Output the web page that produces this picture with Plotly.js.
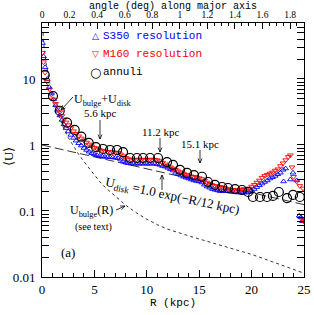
<!DOCTYPE html>
<html><head><meta charset="utf-8">
<script src="https://cdn.plot.ly/plotly-3.0.1.min.js"></script>
<style>html,body{margin:0;padding:0;background:#fff}</style>
</head><body><div id="chart" style="width:314px;height:315px"></div>
<script>
// ---- data ----
const s350_R = [0.05,0.15,0.3,0.5,0.7,0.9,1.1,1.3,1.5,1.7,
  1.9,2.1,2.3,2.5,2.75,3.0,3.25,3.5,3.75,4.0,
  4.25,4.5,4.75,5.0,5.25,5.5,5.75,6.0,6.25,6.5,
  6.75,7.0,7.25,7.5,7.75,8.0,8.25,8.5,8.75,9.0,
  9.25,9.5,9.75,10.0,10.25,10.5,10.75,11.0,11.25,11.5,
  11.75,12.0,12.25,12.5,12.75,13.0,13.25,13.5,13.75,14.0,
  14.25,14.5,14.75,15.0,15.25,15.5,15.75,16.0,16.25,16.5,
  16.75,17.0,17.25,17.5,17.75,18.0,18.25,18.5,18.75,19.0,
  19.25,19.5,19.75,20.0,20.25,20.5,20.75,21.0,21.25,21.5,
  21.75,22.0,22.25,22.5,22.75,23.0,23.25,23.05,23.7,23.95,
  24.3,24.55,24.7,24.85];
const s350_U = [35,22,15,10,7.5,6.0,4.9,4.0,3.3,2.8,
  2.4,2.05,1.8,1.6,1.42,1.28,1.16,1.06,0.98,0.90,
  0.84,0.79,0.75,0.72,0.70,0.68,0.67,0.66,0.66,0.65,
  0.65,0.64,0.63,0.60,0.57,0.54,0.53,0.52,0.52,0.52,
  0.52,0.52,0.52,0.52,0.52,0.52,0.52,0.51,0.50,0.48,
  0.47,0.45,0.43,0.41,0.38,0.36,0.345,0.33,0.32,0.31,
  0.30,0.29,0.285,0.28,0.27,0.25,0.235,0.225,0.215,0.21,
  0.205,0.20,0.20,0.20,0.20,0.195,0.195,0.195,0.19,0.19,
  0.19,0.19,0.195,0.205,0.215,0.23,0.245,0.26,0.275,0.29,
  0.31,0.325,0.34,0.36,0.38,0.42,0.44,0.28,0.30,0.38,
  0.29,0.085,0.08,0.07];

const m160_R = [0.05,0.15,0.3,0.5,0.7,0.9,1.1,1.3,1.5,1.7,
  1.9,2.1,2.3,2.5,2.75,3.0,3.25,3.5,3.75,4.0,
  4.25,4.5,4.75,5.0,5.25,5.5,5.75,6.0,6.25,6.5,
  6.75,7.0,7.25,7.5,7.75,8.0,8.25,8.5,8.75,9.0,
  9.25,9.5,9.75,10.0,10.25,10.5,10.75,11.0,11.25,11.5,
  11.75,12.0,12.25,12.5,12.75,13.0,13.25,13.5,13.75,14.0,
  14.25,14.5,14.75,15.0,15.25,15.5,15.75,16.0,16.25,16.5,
  16.75,17.0,17.25,17.5,17.75,18.0,18.25,18.5,18.75,19.0,
  19.25,19.5,19.75,20.0,20.25,20.5,20.75,21.0,21.25,21.5,
  21.75,22.0,22.25,22.5,22.75,23.0,23.25,23.5,23.7,23.85,
  24.0,24.3,24.6,24.9,24.8,24.95];
const m160_U = [25,18,12.5,9.0,7.0,5.8,4.9,4.2,3.6,3.15,
  2.75,2.45,2.2,2.0,1.8,1.62,1.48,1.36,1.26,1.17,
  1.09,1.02,0.96,0.91,0.87,0.84,0.82,0.80,0.79,0.78,
  0.78,0.77,0.76,0.72,0.68,0.64,0.61,0.60,0.60,0.60,
  0.60,0.60,0.60,0.60,0.60,0.60,0.60,0.59,0.57,0.54,
  0.51,0.48,0.46,0.44,0.42,0.40,0.385,0.37,0.355,0.345,
  0.335,0.33,0.32,0.315,0.305,0.29,0.27,0.255,0.245,0.24,
  0.235,0.23,0.225,0.22,0.215,0.21,0.21,0.205,0.205,0.21,
  0.215,0.215,0.22,0.235,0.25,0.27,0.29,0.32,0.34,0.355,
  0.37,0.385,0.41,0.43,0.48,0.53,0.59,0.66,0.70,0.46,
  0.33,0.28,0.24,0.22,0.075,0.07];

const annuli_R = [0.26,1.05,1.69,2.39,3.12,3.75,4.46,5.15,5.82,6.49,
  7.16,7.73,8.40,9.06,9.64,10.31,11.07,11.93,12.5,13.17,
  13.84,14.5,15.27,15.84,16.5,17.18,17.75,18.42,19.08,19.66,
  20.13,20.8,21.47,22.04,22.6,23.38,23.95,24.6];
const annuli_U = [11.5,5.5,3.3,2.18,1.69,1.34,1.08,0.93,0.87,0.84,
  0.84,0.78,0.635,0.635,0.635,0.635,0.635,0.55,0.50,0.42,
  0.377,0.35,0.33,0.275,0.248,0.231,0.223,0.215,0.208,0.194,
  0.163,0.163,0.163,0.169,0.194,0.157,0.175,0.163];

const disk_R = [0, 25];
const disk_U = [1.0, 0.125];

const bulge_R = [0.1,0.2,0.4,0.6,0.8,1.0,1.25,1.5,1.75,2.0,2.5,3.0,3.5,4.0,4.5,5.0,5.5,6.0,7.0,8.0,9.0,10.0,11.0,12.0,14.0,16.0,18.0,20.0,22.0,24.0,25.0];
const bulge_U = [50,30,17,11,7.5,5.3,3.9,3.0,2.35,1.9,1.3,0.95,0.72,0.56,0.44,0.35,0.28,0.23,0.165,0.122,0.094,0.075,0.062,0.053,0.042,0.034,0.027,0.022,0.017,0.013,0.0114];

const bottomTicks = [0,5,10,15,20,25];
const leftTickVals = [0.01,0.1,1,10];
const leftTickText = ['0.01','0.1','1','10'];
const topRange = [0, 1.901];

// ---- layout helpers ----
const PL=42, PR=304, PT=23, PB=277;
const fx = x => (x-PL)/(PR-PL);
const fy = y => (PB-y)/(PB-PT);
const SERIF = 'Liberation Serif, Times New Roman, serif';
const MONO = 'Liberation Mono, Courier New, monospace';

const traces = [
  {x: bulge_R, y: bulge_U, mode:'lines', line:{color:'black', width:0.8, dash:'3px,3px'}, hoverinfo:'skip'},
  {x: disk_R, y: disk_U, mode:'lines', line:{color:'black', width:0.8, dash:'9px,4px'}, hoverinfo:'skip'},
  {x: s350_R, y: s350_U, mode:'markers', name:'S350 resolution',
   marker:{symbol:'triangle-up-open', size:5, color:'#0000ff', line:{width:0.9}}},
  {x: m160_R, y: m160_U, mode:'markers', name:'M160 resolution',
   marker:{symbol:'triangle-down-open', size:5, color:'#ff0000', line:{width:0.9}}},
  {x: annuli_R, y: annuli_U, mode:'markers', name:'annuli',
   marker:{symbol:'circle-open', size:9, color:'black', line:{width:1.2}}},
  {x: [], y: [], xaxis:'x2', yaxis:'y', mode:'markers', hoverinfo:'skip'}
];

// arrows drawn as shapes (tail -> tip, open V head)
const shapes = [];
function arrow(xt, yt, xs, ys){
  const ln = {color:'black', width:0.8};
  shapes.push({type:'line', xref:'paper', yref:'paper', x0:fx(xs), y0:fy(ys), x1:fx(xt), y1:fy(yt), line:ln});
  const dx = xt-xs, dy = yt-ys, d = Math.hypot(dx,dy), ux = dx/d, uy = dy/d;
  const h = 4.5, w = 2;
  const bx = xt-ux*h, by = yt-uy*h;
  const p1 = [bx - uy*w, by + ux*w], p2 = [bx + uy*w, by - ux*w];
  shapes.push({type:'path', xref:'paper', yref:'paper',
    path:`M${fx(p1[0])},${fy(p1[1])} L${fx(xt)},${fy(yt)} L${fx(p2[0])},${fy(p2[1])}`, line:ln});
}
function label(x, y, text, opts){
  return Object.assign({xref:'paper', yref:'paper', x:fx(x), y:fy(y), text:text, showarrow:false,
    xanchor:'center', yanchor:'middle', borderpad:0, font:{family:SERIF, size:11, color:'black'}}, opts||{});
}

arrow(61, 110, 73, 97);
arrow(100, 139, 100, 120);
arrow(160, 152, 160, 138);
arrow(200, 163, 200, 150);
arrow(162, 175, 162, 190);
arrow(125, 206, 116, 210);

const annotations = [
  // legend
  label(95, 36, '△', {font:{family:'DejaVu Sans', size:9, color:'#0000ff'}}),
  label(102, 36, 'S350 resolution', {xanchor:'left', font:{family:MONO, size:11, color:'#0000ff'}}),
  label(95, 54, '▽', {font:{family:'DejaVu Sans', size:9, color:'#ff0000'}}),
  label(102, 54, 'M160 resolution', {xanchor:'left', font:{family:MONO, size:11, color:'#ff0000'}}),
  label(95, 72, '○', {font:{family:'DejaVu Sans', size:13, color:'black'}}),
  label(102, 72, 'annuli', {xanchor:'left', font:{family:MONO, size:11, color:'black'}}),
  // labels
  label(102, 100, 'U<sub>bulge</sub>+U<sub>disk</sub>', {font:{family:SERIF, size:12, color:'black'}}),
  label(100, 113, '5.6 kpc'),
  label(161, 132, '11.2 kpc'),
  label(200, 144, '15.1 kpc'),
  label(172, 196, 'U<sub>disk</sub> =1.0 exp(−R/12 kpc)', {textangle:12, font:{family:SERIF, size:13, color:'black'}}),
  label(91, 211, 'U<sub>bulge</sub>(R)', {font:{family:SERIF, size:12, color:'black'}}),
  label(93, 227, '(see text)', {font:{family:SERIF, size:10, color:'black'}}),
  label(68, 252, '(a)', {font:{family:SERIF, size:13, color:'black'}}),
  label(8, 157, '⟨U⟩', {textangle:-90, font:{family:SERIF, size:13, color:'black'}}),
  label(173, 6.5, 'angle (deg) along major axis', {font:{family:MONO, size:10, color:'black'}})
];

const axBase = {showline:true, linecolor:'black', linewidth:1, ticks:'inside', tickcolor:'black', tickwidth:1,
  showgrid:false, zeroline:false};

const layout = {
  width:314, height:315,
  margin:{l:PL, r:314-PR, t:PT, b:315-PB, pad:0},
  paper_bgcolor:'white', plot_bgcolor:'white',
  showlegend:false,
  xaxis: Object.assign({}, axBase, {range:[0,25], tickvals:bottomTicks, ticklen:7,
    minor:{dtick:1, tick0:0, ticks:'inside', ticklen:4, tickcolor:'black'},
    tickfont:{family:SERIF, size:13, color:'black'},
    title:{text:'R (kpc)', font:{family:MONO, size:11, color:'black'}, standoff:2}}),
  xaxis2: Object.assign({}, axBase, {overlaying:'x', side:'top', anchor:'y', range:topRange, dtick:0.2, tick0:0, ticklen:6,
    minor:{dtick:0.05, tick0:0, ticks:'inside', ticklen:3, tickcolor:'black'},
    tickfont:{family:SERIF, size:9.5, color:'black'}, ticklabelstandoff:0}),
  yaxis: Object.assign({}, axBase, {type:'log', range:[-2, 1.848], tickvals:leftTickVals, ticktext:leftTickText, ticklen:7,
    mirror:'allticks', minor:{dtick:'D1', ticks:'inside', ticklen:4, tickcolor:'black'},
    tickfont:{family:SERIF, size:13, color:'black'}, ticklabelstandoff:3}),
  shapes: shapes,
  annotations: annotations
};

Plotly.newPlot('chart', traces, layout, {staticPlot:true, displayModeBar:false});
</script></body></html>
